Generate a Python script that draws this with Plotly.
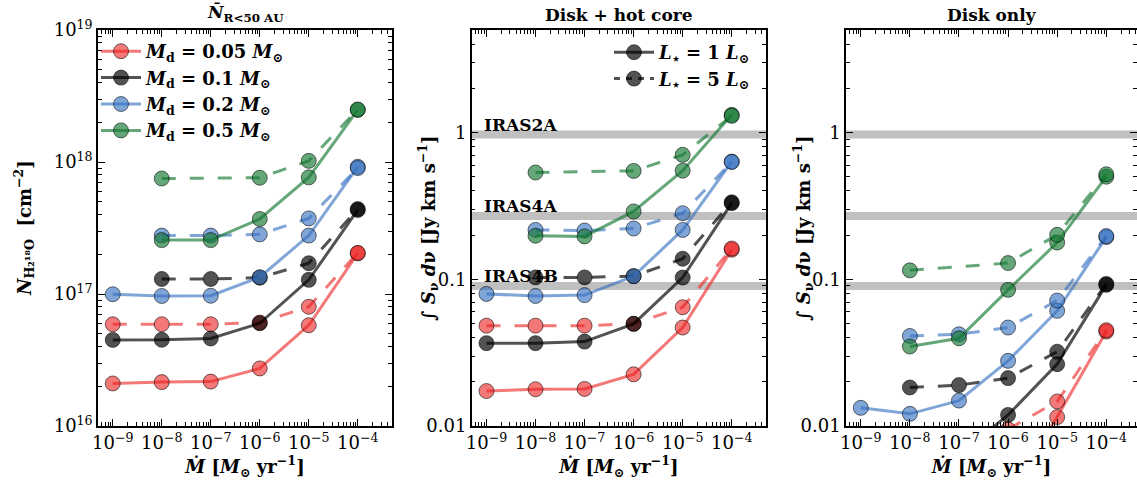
import numpy as np
import plotly.graph_objects as go

# ---------------- data ----------------
MDOT = [1e-9, 1e-8, 1e-7, 1e-6, 1e-5, 1e-4]
DISK_MASSES = ["0.05", "0.1", "0.2", "0.5"]
LUMS = ["1", "5"]

# Panel 1: mean column density within 50 AU  [cm^-2]
N_red_L1 = [2.1e16, 2.15e16, 2.17e16, 2.73e16, 5.8e16, 2.03e17]
N_red_L5 = [5.9e16, 5.9e16, 5.9e16, 6.07e16, 8.0e16, 2.05e17]
N_blk_L1 = [4.49e16, 4.5e16, 4.6e16, 6.0e16, 1.28e17, 4.33e17]
N_blk_L5 = [None, 1.3e17, 1.3e17, 1.33e17, 1.71e17, 4.4e17]
N_blu_L1 = [9.96e16, 9.66e16, 9.7e16, 1.34e17, 2.77e17, 9.2e17]
N_blu_L5 = [None, 2.77e17, 2.77e17, 2.83e17, 3.74e17, 9.0e17]
N_grn_L1 = [None, 2.56e17, 2.56e17, 3.7e17, 7.65e17, 2.48e18]
N_grn_L5 = [None, 7.5e17, None, 7.6e17, 1.02e18, 2.5e18]

# Panel 2: integrated flux, disk + hot core [Jy km/s]
HC_red_L1 = [0.0173, 0.0178, 0.0179, 0.0225, 0.0469, 0.159]
HC_red_L5 = [0.0483, 0.0483, 0.0483, 0.0497, 0.0645, 0.162]
HC_blk_L1 = [0.0367, 0.0367, 0.0376, 0.0497, 0.1027, 0.33]
HC_blk_L5 = [None, 0.103, 0.103, 0.105, 0.138, 0.335]
HC_blu_L1 = [0.0795, 0.077, 0.078, 0.105, 0.217, 0.634]
HC_blu_L5 = [None, 0.217, 0.215, 0.222, 0.282, 0.63]
HC_grn_L1 = [None, 0.198, 0.196, 0.29, 0.55, 1.32]
HC_grn_L5 = [None, 0.534, None, 0.548, 0.705, 1.30]

# Panel 3: integrated flux, disk only [Jy km/s]
D_red_L1 = [None, None, None, 0.0035, 0.0115, 0.044]
D_red_L5 = [None, None, None, 0.0095, 0.0147, 0.045]
D_blk_L1 = [None, None, 0.0063, 0.0119, 0.0264, 0.0916]
D_blk_L5 = [None, 0.0183, 0.019, 0.0212, 0.0321, 0.093]
D_blu_L1 = [0.0133, 0.0121, 0.0149, 0.0278, 0.061, 0.194]
D_blu_L5 = [None, 0.0411, 0.0422, 0.0469, 0.0716, 0.197]
D_grn_L1 = [None, 0.0348, 0.0396, 0.0847, 0.178, 0.50]
D_grn_L5 = [None, 0.115, None, 0.129, 0.201, 0.52]

# Observed sources (horizontal bands)
SOURCES = ["IRAS2A", "IRAS4A", "IRAS4B"]
SOURCE_FLUX = [0.97, 0.27, 0.090]

X_TICKS = [1e-9, 1e-8, 1e-7, 1e-6, 1e-5, 1e-4]
X_TICKTEXT = ["10<sup>−9</sup>", "10<sup>−8</sup>", "10<sup>−7</sup>",
              "10<sup>−6</sup>", "10<sup>−5</sup>", "10<sup>−4</sup>"]
YN_TICKS = [1e16, 1e17, 1e18, 1e19]
YN_TICKTEXT = ["10<sup>16</sup>", "10<sup>17</sup>", "10<sup>18</sup>", "10<sup>19</sup>"]
YS_TICKS = [0.01, 0.1, 1]
YS_TICKTEXT = ["0.01", "0.1", "1"]

# ---------------- style ----------------
FONT = "DejaVu Serif"
COLORS = ["rgba(235,30,30,0.6)", "rgba(0,0,0,0.68)",
          "rgba(50,110,190,0.62)", "rgba(20,120,50,0.65)"]
EDGE = "rgba(0,0,0,0.55)"
DASH = "14px,14px"
W, H = 1137, 487

panels = [
    [(N_red_L1, N_red_L5), (N_blk_L1, N_blk_L5), (N_blu_L1, N_blu_L5), (N_grn_L1, N_grn_L5)],
    [(HC_red_L1, HC_red_L5), (HC_blk_L1, HC_blk_L5), (HC_blu_L1, HC_blu_L5), (HC_grn_L1, HC_grn_L5)],
    [(D_red_L1, D_red_L5), (D_blk_L1, D_blk_L5), (D_blu_L1, D_blu_L5), (D_grn_L1, D_grn_L5)],
]

fig = go.Figure()

def ax(i):
    return ("x" if i == 0 else f"x{i+1}"), ("y" if i == 0 else f"y{i+1}")

# grey bands first (behind)
for p in (1, 2):
    xa, ya = ax(p)
    for name, v in zip(SOURCES, SOURCE_FLUX):
        fig.add_trace(go.Scatter(x=[1e-10, 1e-3], y=[v, v], mode="lines",
                                 line=dict(color="#c0c0c0", width=8),
                                 xaxis=xa, yaxis=ya, showlegend=False, hoverinfo="skip"))

for p, series in enumerate(panels):
    xa, ya = ax(p)
    for k, (s1, s5) in enumerate(series):
        col = COLORS[k]
        for ls, vals in (("solid", s1), (DASH, s5)):
            fig.add_trace(go.Scatter(
                x=MDOT, y=vals, mode="lines+markers", connectgaps=True,
                line=dict(color=col, width=3, dash=ls),
                marker=dict(size=15, color=col, line=dict(color=EDGE, width=1)),
                xaxis=xa, yaxis=ya,
                name=f"<b><i>M</i><sub>d</sub> = {DISK_MASSES[k]} <i>M</i><sub>⊙</sub></b>",
                legend="legend",
                showlegend=(p == 0 and ls == "solid"),
            ))

# luminosity legend (panel 2)
for ls, L in (("solid", LUMS[0]), ("6px,6px", LUMS[1])):
    fig.add_trace(go.Scatter(
        x=[None], y=[None], mode="lines+markers",
        line=dict(color="rgba(0,0,0,0.68)", width=3, dash=ls),
        marker=dict(size=15, color="rgba(0,0,0,0.68)", line=dict(color=EDGE, width=1)),
        xaxis="x2", yaxis="y2", legend="legend2",
        name=f"<b><i>L</i><sub>⋆</sub> = {L} <i>L</i><sub>⊙</sub></b>",
    ))

# ---------------- layout ----------------
top = 1 - 30 / H
bot = 1 - 426 / H
xdom = [[98 / W, 392 / W], [471.7 / W, 766 / W], [846 / W, 1.0]]
xranges = [[np.log10(5e-10), np.log10(5e-4)], [np.log10(5e-10), np.log10(5e-4)],
           [np.log10(5e-10), np.log10(5e-10) + 291 / 49.1]]

xminor = [m * 10.0 ** e for e in range(-10, -3) for m in range(2, 10)]
yn_minor = [m * 10.0 ** e for e in range(16, 19) for m in range(2, 10)]
ys_minor = [m * 10.0 ** e for e in range(-2, 1) for m in range(2, 10)]

tickfont = dict(family=FONT, size=18, color="black")
xtitle = "<b><i>Ṁ</i> [<i>M</i><sub>⊙</sub> yr<sup>−1</sup>]</b>"

layout = dict(width=W, height=H, margin=dict(l=0, r=0, t=0, b=0, autoexpand=False),
              paper_bgcolor="white", plot_bgcolor="white",
              font=dict(family=FONT, color="black"))

for p in range(3):
    key = "xaxis" if p == 0 else f"xaxis{p+1}"
    layout[key] = dict(
        type="log", domain=xdom[p], range=xranges[p], anchor=ax(p)[1],
        tickmode="array", tickvals=X_TICKS, ticktext=X_TICKTEXT,
        ticks="inside", ticklen=7, tickwidth=1, tickcolor="black",
        minor=dict(tickmode="array", tickvals=xminor, ticks="inside", ticklen=4,
                   tickcolor="black", showgrid=False),
        showline=True, linecolor="black", linewidth=1.5, mirror="ticks",
        showgrid=False, zeroline=False, tickfont=tickfont, automargin=False,
        title=dict(text=xtitle, font=dict(family=FONT, size=18), standoff=4),
    )
    ykey = "yaxis" if p == 0 else f"yaxis{p+1}"
    if p == 0:
        yv, yt, ymin, yr = YN_TICKS, YN_TICKTEXT, yn_minor, [16, 19]
    else:
        yv, yt, ymin, yr = YS_TICKS, YS_TICKTEXT, ys_minor, [-2, np.log10(5)]
    layout[ykey] = dict(
        type="log", domain=[bot, top], range=yr, anchor=ax(p)[0],
        tickmode="array", tickvals=yv, ticktext=yt,
        ticks="inside", ticklen=7, tickwidth=1, tickcolor="black",
        minor=dict(tickmode="array", tickvals=ymin, ticks="inside", ticklen=4,
                   tickcolor="black", showgrid=False),
        showline=True, linecolor="black", linewidth=1.5, mirror="ticks",
        showgrid=False, zeroline=False, tickfont=tickfont, automargin=False,
    )

layout["legend"] = dict(x=96 / W, y=1 - 33 / H, xanchor="left", yanchor="top",
                        bgcolor="rgba(0,0,0,0)", font=dict(family=FONT, size=18),
                        tracegroupgap=0, itemwidth=40)
layout["legend2"] = dict(x=756 / W, y=1 - 34 / H, xanchor="right", yanchor="top",
                         bgcolor="rgba(0,0,0,0)", font=dict(family=FONT, size=18),
                         tracegroupgap=0, itemwidth=40)

fig.update_layout(**layout)

# y-axis titles (placed like the reference, overlapping tick-label column)
ytitles = ["<b><i>N</i><sub>H₂¹⁸O</sub>  [cm<sup>−2</sup>]</b>",
           "<b>∫ <i>S</i><sub>ν</sub> <i>d</i>ν [Jy km s<sup>−1</sup>]</b>",
           "<b>∫ <i>S</i><sub>ν</sub> <i>d</i>ν [Jy km s<sup>−1</sup>]</b>"]
ytitle_x = [24, 428, 803]
for p in range(3):
    fig.add_annotation(text=ytitles[p], xref="paper", yref="paper",
                       x=ytitle_x[p] / W, y=(top + bot) / 2, textangle=-90,
                       xanchor="center", yanchor="middle", showarrow=False,
                       font=dict(family=FONT, size=18, color="black"))

# panel titles
titles = ["<b><i>N̄</i><sub>R&lt;50 AU</sub></b>", "<b>Disk + hot core</b>", "<b>Disk only</b>"]
for p in range(3):
    xa = "x domain" if p == 0 else f"x{p+1} domain"
    fig.add_annotation(text=titles[p], xref=xa, yref="paper", x=0.5, y=top,
                       yanchor="bottom", yshift=3, showarrow=False,
                       font=dict(family=FONT, size=17, color="black"))

# source labels in middle panel
for name, v in zip(SOURCES, SOURCE_FLUX):
    fig.add_annotation(text=f"<b>{name}</b>", xref="x2 domain", yref="y2",
                       x=0.035, y=np.log10(v), xanchor="left", yanchor="bottom",
                       yshift=-2, showarrow=False,
                       font=dict(family=FONT, size=17, color="black"))

fig.write_html(
    "out.html",
    config={"displayModeBar": False},
    post_script="document.body.style.margin='0';document.body.style.overflow='hidden';",
)
